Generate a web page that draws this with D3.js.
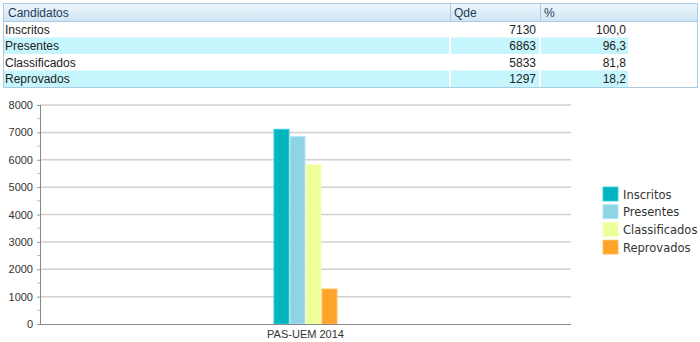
<!DOCTYPE html>
<html lang="pt">
<head>
<meta charset="UTF-8" />
<title>PAS-UEM 2014</title>
<script src="https://cdn.jsdelivr.net/npm/d3@7"></script>
<style>
  body { margin: 0; background: #fff; }
  svg { display: block; }
  .tbl text { font-family: Arial, "Liberation Sans", sans-serif; font-size: 12px; fill: #222; }
  .tbl .head text { fill: #1d3b57; }
  .axis text { font-family: Arial, "Liberation Sans", sans-serif; font-size: 11px; fill: #333; }
  .legend text { font-family: "DejaVu Sans", Verdana, sans-serif; font-size: 11.5px; fill: #333; }
</style>
</head>
<body>
<div id="container"></div>
<script>
  // data
  const categories = ["Inscritos", "Presentes", "Classificados", "Reprovados"];
  const qde = [7130, 6863, 5833, 1297];
  const pct = ["100,0", "96,3", "81,8", "18,2"];
  const group = "PAS-UEM 2014";
  const yTicks = [0, 1000, 2000, 3000, 4000, 5000, 6000, 7000, 8000];
  const colors = ["#00b5bf", "#8fd4e6", "#eeff99", "#ffa42a"];
  const strokes = ["#33d0d8", "#b2e6f2", "#f4ffbb", "#ffbe5e"];

  const W = 700, H = 342;
  const svg = d3.select("#container").append("svg").attr("width", W).attr("height", H);

  // ---- table ----
  const tbl = svg.append("g").attr("class", "tbl");
  const tx = 4, tw = 693, headH = 17, rowH = 16.5, ty = 4;
  const cols = [tx, 450, 540]; // column starts
  const grad = svg.append("defs").append("linearGradient")
    .attr("id", "hg").attr("x1", 0).attr("y1", 0).attr("x2", 0).attr("y2", 1);
  grad.append("stop").attr("offset", "0%").attr("stop-color", "#eef6fc");
  grad.append("stop").attr("offset", "100%").attr("stop-color", "#cfe5f5");

  const head = tbl.append("g").attr("class", "head");
  head.append("rect").attr("x", tx).attr("y", ty).attr("width", tw).attr("height", headH)
    .attr("fill", "url(#hg)");
  head.selectAll("line.sep").data(cols.slice(1)).enter().append("line")
    .attr("x1", d => d + 0.5).attr("x2", d => d + 0.5)
    .attr("y1", ty).attr("y2", ty + headH).attr("stroke", "#a9cbe3");
  head.selectAll("text").data(["Candidatos", "Qde", "%"]).enter().append("text")
    .attr("x", (d, i) => cols[i] + 4).attr("y", ty + 13).text(d => d);

  const rowY = d3.scaleBand().domain(d3.range(categories.length))
    .range([ty + headH, ty + headH + rowH * categories.length]);
  const rows = tbl.selectAll("g.row").data(categories).enter().append("g")
    .attr("class", "row").attr("transform", (d, i) => `translate(0,${rowY(i)})`);
  rows.filter((d, i) => i % 2 === 1).each(function () {
    const g = d3.select(this);
    g.append("rect").attr("x", tx).attr("width", cols[1] - tx - 1).attr("height", rowH).attr("fill", "#c6f6fd");
    g.append("rect").attr("x", cols[1] + 1).attr("width", cols[2] - cols[1] - 2).attr("height", rowH).attr("fill", "#c6f6fd");
    g.append("rect").attr("x", cols[2] + 1).attr("width", 628 - cols[2] - 1).attr("height", rowH).attr("fill", "#c6f6fd");
  });
  rows.append("text").attr("x", tx + 1).attr("y", 12.5).text(d => d);
  rows.append("text").attr("x", 536).attr("y", 12.5).attr("text-anchor", "end").text((d, i) => qde[i]);
  rows.append("text").attr("x", 626).attr("y", 12.5).attr("text-anchor", "end").text((d, i) => pct[i]);

  tbl.append("rect").attr("x", tx - 0.5).attr("y", ty - 0.5).attr("width", tw + 1)
    .attr("height", headH + rowH * categories.length + 1)
    .attr("fill", "none").attr("stroke", "#a9cbe3");
  tbl.append("line").attr("x1", tx).attr("x2", tx + tw).attr("y1", ty + headH + 0.5).attr("y2", ty + headH + 0.5)
    .attr("stroke", "#a9cbe3");

  // ---- chart ----
  const margin = { left: 40, right: 129, top: 105, bottom: 18 };
  const x0 = margin.left, x1 = W - margin.right, yTop = margin.top, yBot = H - margin.bottom;
  const y = d3.scaleLinear().domain([0, 8000]).range([yBot, yTop]);
  const xg = d3.scaleBand().domain([group]).range([x0, x1]);
  const xb = d3.scaleBand().domain(categories).range([0, 64]);

  // gridlines
  svg.append("g").selectAll("line").data(yTicks.slice(1)).enter().append("line")
    .attr("x1", x0).attr("x2", x1).attr("y1", d => y(d)).attr("y2", d => y(d))
    .attr("stroke", "#d0d0d0").attr("stroke-width", 1.5);

  // bars
  const gx = xg(group) + xg.bandwidth() / 2 - xb.range()[1] / 2;
  svg.append("g").attr("transform", `translate(${gx},0)`)
    .selectAll("rect").data(categories).enter().append("rect")
    .attr("x", d => xb(d) + 0.5).attr("width", xb.bandwidth() - 1)
    .attr("y", (d, i) => y(qde[i]) + 0.5).attr("height", (d, i) => yBot - y(qde[i]) - 0.5)
    .attr("fill", (d, i) => colors[i]).attr("stroke", (d, i) => strokes[i]);

  // y axis
  const ya = svg.append("g").attr("class", "axis").attr("transform", `translate(${x0},0)`)
    .call(d3.axisLeft(y).tickValues(yTicks).tickSize(3).tickPadding(4).tickFormat(d3.format("d")));
  ya.select(".domain").attr("stroke", "#888").attr("d", `M0.5,${yTop}V${yBot}`);
  ya.selectAll(".tick line").attr("stroke", "#999");
  svg.append("g").attr("transform", `translate(${x0},0)`)
    .selectAll("line").data(d3.range(500, 8000, 1000)).enter().append("line")
    .attr("x1", -3).attr("x2", 0).attr("y1", d => y(d)).attr("y2", d => y(d)).attr("stroke", "#bbb");

  // x axis
  const xa = svg.append("g").attr("class", "axis").attr("transform", `translate(0,${yBot})`)
    .call(d3.axisBottom(xg).tickSize(0).tickPadding(6));
  xa.select(".domain").attr("stroke", "#888").attr("d", `M${x0},0.5H${x1}`);

  // legend
  const lg = svg.append("g").attr("class", "legend").attr("transform", "translate(603,187)");
  const li = lg.selectAll("g").data(categories).enter().append("g")
    .attr("transform", (d, i) => `translate(0,${i * 17.7})`);
  li.append("rect").attr("width", 15).attr("height", 14).attr("fill", (d, i) => colors[i])
    .attr("stroke", (d, i) => strokes[i]).attr("stroke-width", 0.8);
  li.append("text").attr("x", 20).attr("y", 11.5).text(d => d);
</script>
</body>
</html>
